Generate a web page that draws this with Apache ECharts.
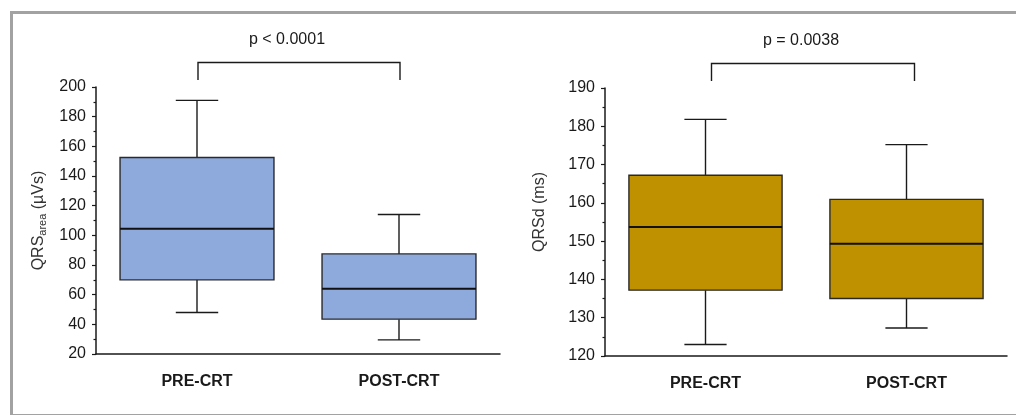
<!DOCTYPE html>
<html>
<head>
<meta charset="utf-8">
<script src="https://cdn.jsdelivr.net/npm/echarts@6/dist/echarts.min.js"></script>
<style>
html,body{margin:0;padding:0;background:#fff;}
#c{width:1016px;height:415px;}
</style>
</head>
<body>
<div id="c"></div>
<script>
// ---- data ----
const categories = ['PRE-CRT', 'POST-CRT'];
// [min, Q1, median, Q3, max]
const qrsAreaStats = [
  [48, 70, 104.5, 152.5, 191],
  [29.5, 43.5, 64, 87.5, 114]
];
const qrsdStats = [
  [123, 137.2, 153.7, 167.2, 181.8],
  [127.3, 135, 149.3, 160.9, 175.2]
];
const pLabels = ['p < 0.0001', 'p = 0.0038'];
const leftAxisTicks = { min: 20, max: 200, interval: 20 };
const rightAxisTicks = { min: 120, max: 190, interval: 10 };

// ---- styles ----
const FONT = "'Liberation Sans', Arial, sans-serif";
const INK = '#1a1a1a';

function boxData(stats) {
  return stats.map((s, i) => [i].concat(s));
}

function makeBoxRenderer(fill) {
  return function (params, api) {
    const x = api.value(0);
    const pMin = api.coord([x, api.value(1)]);
    const pQ1 = api.coord([x, api.value(2)]);
    const pMed = api.coord([x, api.value(3)]);
    const pQ3 = api.coord([x, api.value(4)]);
    const pMax = api.coord([x, api.value(5)]);
    const band = api.size([1, 0])[0];
    const bw = band * 0.762;
    const cw = band * 0.21;
    const cx = pMed[0];
    const ls = { stroke: INK, lineWidth: 1.4 };
    return {
      type: 'group',
      children: [
        { type: 'line', shape: { x1: cx, y1: pMax[1], x2: cx, y2: pQ3[1] }, style: ls },
        { type: 'line', shape: { x1: cx, y1: pQ1[1], x2: cx, y2: pMin[1] }, style: ls },
        { type: 'line', shape: { x1: cx - cw / 2, y1: pMax[1], x2: cx + cw / 2, y2: pMax[1] }, style: ls },
        { type: 'line', shape: { x1: cx - cw / 2, y1: pMin[1], x2: cx + cw / 2, y2: pMin[1] }, style: ls },
        { type: 'rect', shape: { x: cx - bw / 2, y: pQ3[1], width: bw, height: pQ1[1] - pQ3[1] },
          style: { fill: fill, stroke: '#2a2a2a', lineWidth: 1.4 } },
        { type: 'line', shape: { x1: cx - bw / 2, y1: pMed[1], x2: cx + bw / 2, y2: pMed[1] },
          style: { stroke: '#111', lineWidth: 2 } }
      ]
    };
  };
}

function makeBracketRenderer(label, axisMax, shiftX) {
  return function (params, api) {
    const a = api.coord([api.value(0), axisMax]);
    const b = api.coord([api.value(1), axisMax]);
    const top = a[1];
    const yH = top - 24.5;
    const yB = top - 7;
    const x1 = a[0] + shiftX[0], x2 = b[0] + shiftX[1];
    const ls = { stroke: INK, lineWidth: 1.4 };
    return {
      type: 'group',
      children: [
        { type: 'polyline', shape: { points: [[x1, yB], [x1, yH], [x2, yH], [x2, yB]] }, style: Object.assign({ fill: null }, ls) },
        { type: 'text', x: (x1 + x2) / 2 - 12, y: yH - 23,
          style: { text: label, font: '16px ' + FONT, fill: INK, align: 'center', verticalAlign: 'middle' } }
      ]
    };
  };
}

function xAxisCfg(gridIndex) {
  return {
    type: 'category', gridIndex: gridIndex, data: categories, boundaryGap: true,
    axisLine: { lineStyle: { color: INK, width: 1.5 } },
    axisTick: { alignWithLabel: true, length: 4, lineStyle: { color: INK, width: 1.2 } },
    axisLabel: { margin: 20, fontFamily: FONT, fontSize: 16, fontWeight: 'bold', color: INK },
    splitLine: { show: false }
  };
}

function yAxisCfg(gridIndex, t, name, nameGap, nameRich, namePadding) {
  const cfg = {
    type: 'value', gridIndex: gridIndex, min: t.min, max: t.max, interval: t.interval,
    axisLine: { show: true, lineStyle: { color: INK, width: 1.5 } },
    axisTick: { show: true, length: 4, lineStyle: { color: INK, width: 1.2 } },
    minorTick: { show: true, splitNumber: 2, length: 2.5, lineStyle: { color: INK, width: 1.2 } },
    axisLabel: { margin: 10, fontFamily: FONT, fontSize: 16, color: INK },
    splitLine: { show: false },
    name: name, nameLocation: 'middle', nameGap: nameGap,
    nameTextStyle: { fontFamily: FONT, fontSize: 16, color: '#333' }
  };
  if (nameRich) cfg.nameTextStyle.rich = nameRich;
  if (namePadding) cfg.nameTextStyle.padding = namePadding;
  return cfg;
}

const chart = echarts.init(document.getElementById('c'), null, { renderer: 'canvas' });
chart.setOption({
  animation: false,
  backgroundColor: '#fff',
  graphic: [{
    type: 'rect', left: 9, top: 10,
    shape: { x: 0, y: 0, width: 1100, height: 403 },
    style: { fill: null, stroke: '#a2a2a2', lineWidth: 3 }
  }],
  grid: [
    { left: 96, top: 87, width: 404, height: 267 },
    { left: 605, top: 88, width: 402, height: 268 }
  ],
  xAxis: [xAxisCfg(0), xAxisCfg(1)],
  yAxis: [
    yAxisCfg(0, leftAxisTicks, '{m|QRS}{s|area}{m| (µVs)}', 48, {
      m: { fontFamily: FONT, fontSize: 16, color: '#333', lineHeight: 18, verticalAlign: 'middle' },
      s: { fontFamily: FONT, fontSize: 11, color: '#333', lineHeight: 11, verticalAlign: 'bottom', padding: [9, 0, 0, 0] }
    }),
    yAxisCfg(1, rightAxisTicks, 'QRSd (ms)', 57, null, [0, 0, 0, 20])
  ],
  series: [
    { type: 'custom', xAxisIndex: 0, yAxisIndex: 0, clip: false,
      data: boxData(qrsAreaStats), renderItem: makeBoxRenderer('#8eaadc') },
    { type: 'custom', xAxisIndex: 1, yAxisIndex: 1, clip: false,
      data: boxData(qrsdStats), renderItem: makeBoxRenderer('#bf9000') },
    { type: 'custom', xAxisIndex: 0, yAxisIndex: 0, clip: false,
      data: [[0, 1]], renderItem: makeBracketRenderer(pLabels[0], leftAxisTicks.max, [1, 1]) },
    { type: 'custom', xAxisIndex: 1, yAxisIndex: 1, clip: false,
      data: [[0, 1]], renderItem: makeBracketRenderer(pLabels[1], rightAxisTicks.max, [6, 8]) }
  ]
});
</script>
</body>
</html>
